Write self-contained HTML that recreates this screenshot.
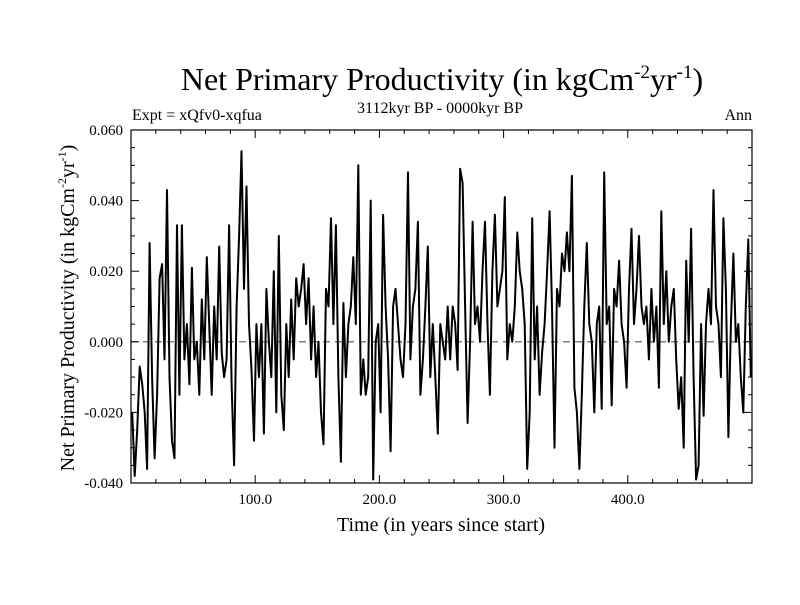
<!DOCTYPE html>
<html><head><meta charset="utf-8"><style>
body{margin:0;background:#fff}
svg text{font-family:"Liberation Serif",serif;fill:#000}
</style></head><body>
<svg id="chart" width="800" height="600" viewBox="0 0 800 600" xmlns="http://www.w3.org/2000/svg">
<rect width="800" height="600" fill="#fff"/>
<text x="442" y="90" font-size="32" text-anchor="middle">Net Primary Productivity (in kgCm<tspan font-size="19" dy="-12">-2</tspan><tspan dy="12">yr</tspan><tspan font-size="19" dy="-12">-1</tspan><tspan dy="12">)</tspan></text>
<text x="440" y="113" font-size="16" text-anchor="middle">3112kyr BP - 0000kyr BP</text>
<text x="132" y="120" font-size="16">Expt = xQfv0-xqfua</text>
<text x="752" y="120" font-size="16" text-anchor="end">Ann</text>
<text x="441" y="531" font-size="20" text-anchor="middle">Time (in years since start)</text>
<text transform="translate(74,308) rotate(-90)" font-size="20" text-anchor="middle">Net Primary Productivity (in kgCm<tspan font-size="12" dy="-8">-2</tspan><tspan dy="8">yr</tspan><tspan font-size="12" dy="-8">-1</tspan><tspan dy="8">)</tspan></text>
<g id="axes"></g>
<g id="series"></g>
</svg>
<script>
const yTickValues = [-0.04, -0.02, 0.0, 0.02, 0.04, 0.06];
const yTickLabels = ["-0.040", "-0.020", "0.000", "0.020", "0.040", "0.060"];
const xTickValues = [100, 200, 300, 400];
const xTickLabels = ["100.0", "200.0", "300.0", "400.0"];
const npp = [
-20,-38,-25,-7,-12,-20,-36,28,-10,-33,
-15,18,22,-5,43,-10,-28,-33,33,-15,
33,-5,5,-12,21,-5,0,-15,12,-5,
24,5,-15,10,-5,27,-3,-10,-5,33,
-12,-35,10,30,54,15,44,5,-8,-28,
5,-10,5,-26,15,0,-10,20,-20,30,
-15,-25,5,-10,12,-5,18,10,15,22,
5,18,-5,10,-10,0,-20,-29,15,10,
35,5,33,-10,-34,11,-10,5,10,24,
5,50,-15,-5,-15,-10,40,-39,0,5,
-20,36,10,-5,-31,10,15,5,-5,-10,
5,48,-5,10,15,34,-15,-5,10,27,
-10,5,-10,-26,5,0,-5,10,-5,10,
5,-8,49,45,10,-23,0,34,5,10,
0,20,34,5,-15,20,36,10,15,20,
41,-5,5,0,10,31,20,15,5,-36,
-20,35,-5,10,-15,-3,5,20,37,10,
-30,15,10,25,20,31,20,47,-13,-20,
-36,-15,10,28,5,0,-20,5,10,-19,
48,5,10,-18,15,10,23,5,0,-13,
15,32,5,15,30,10,5,10,-5,15,
0,10,-13,37,5,20,0,10,15,-5,
-19,-10,-30,23,0,32,-10,-39,-35,5,
-21,5,15,5,43,10,5,-10,35,15,
-27,5,25,0,5,-10,-20,10,29,-10
];
const years = npp.map((v, i) => 1 + 2 * i);

const L = 131, R = 752, T = 130, B = 483;
const xMin = 0, xMax = 500, yMin = -0.04, yMax = 0.06;
const sx = v => L + (v - xMin) / (xMax - xMin) * (R - L);
const sy = v => B - (v - yMin) / (yMax - yMin) * (B - T);
const NS = "http://www.w3.org/2000/svg";
const axes = document.getElementById('axes');
function mk(tag, attrs, parent) {
  const e = document.createElementNS(NS, tag);
  for (const k in attrs) e.setAttribute(k, attrs[k]);
  parent.appendChild(e);
  return e;
}
const z = mk('line', {x1: L, x2: R, y1: sy(0), y2: sy(0), stroke: '#555', 'stroke-width': 1.2, 'stroke-dasharray': '7,5'}, axes);


const fr = mk('rect', {x: L, y: T, width: R - L, height: B - T, fill: 'none', stroke: '#000', 'stroke-width': 1.2}, axes);


for (let v = 20; v < 500; v += 20) {
  const len = v % 100 === 0 ? 8 : 4;
  mk('line', {x1: sx(v), x2: sx(v), y1: B, y2: B - len, stroke: '#000'}, axes);
  mk('line', {x1: sx(v), x2: sx(v), y1: T, y2: T + len, stroke: '#000'}, axes);
}
xTickValues.forEach((v, i) => {
  const t = mk('text', {x: sx(v), y: B + 21, 'font-size': 15, 'text-anchor': 'middle'}, axes);
  t.textContent = xTickLabels[i];
  
  
});
for (let k = 1; k < 20; k++) {
  const v = yMin + k * 0.005;
  const len = k % 4 === 0 ? 8 : 4;
  mk('line', {x1: L, x2: L + len, y1: sy(v), y2: sy(v), stroke: '#000'}, axes);
  mk('line', {x1: R, x2: R - len, y1: sy(v), y2: sy(v), stroke: '#000'}, axes);
}
yTickValues.forEach((v, i) => {
  const t = mk('text', {x: L - 8, y: sy(v) + 5, 'font-size': 15, 'text-anchor': 'end'}, axes);
  t.textContent = yTickLabels[i];
  
  
});
const pts = npp.map((v, i) => sx(years[i]).toFixed(1) + ',' + sy(v / 1000).toFixed(1)).join(' ');
const line = mk('polyline', {points: pts, fill: 'none', stroke: '#000', 'stroke-width': 2, 'stroke-linejoin': 'round'}, document.getElementById('series'));


</script>
</body></html>
